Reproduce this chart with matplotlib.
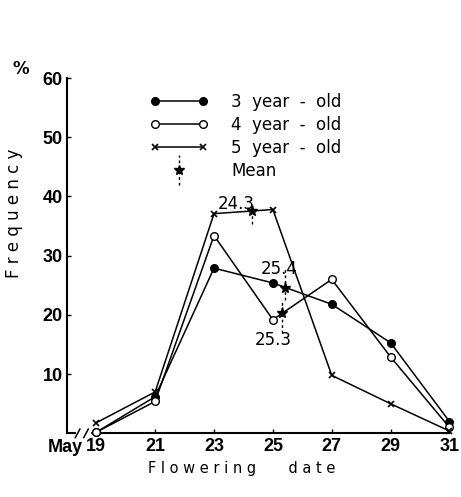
import matplotlib
matplotlib.use("Agg")
import matplotlib.pyplot as plt
import matplotlib.transforms as mtransforms
from matplotlib.lines import Line2D
from matplotlib.legend_handler import HandlerBase

# flowering dates (May)
dates = [19, 21, 23, 25, 27, 29, 31]
tick_labels = ["19", "21", "23", "25", "27", "29", "31"]

# frequency (%)
age3 = [0.2, 6.2, 27.9, 25.4, 21.8, 15.3, 2.0]
age4 = [0.2, 5.4, 33.4, 19.2, 26.0, 12.9, 1.0]
age5 = [1.8, 7.0, 37.1, 37.8, 9.8, 5.0, 0.4]

# mean flowering dates
mean_x = [24.3, 25.4, 25.3]
mean_y = [37.5, 24.6, 20.3]
mean_lab = ["24.3", "25.4", "25.3"]
mean_lab_xy = [(23.75, 38.8), (25.2, 27.7), (25.0, 15.7)]
mean_dash = [(35.3, 37.5), (22.5, 28.0), (17.0, 22.5)]

plt.rcParams["font.family"] = ["DejaVu Sans"]
tick_font = {"family": "Liberation Sans", "size": 13, "weight": "bold"}

fig = plt.figure(figsize=(4.61, 4.97), dpi=100)
ax = fig.add_axes([0.145, 0.128, 0.83, 0.715])

l3, = ax.plot(dates, age3, color="black", lw=1.1, marker="o", ms=5.5,
              mfc="black", mec="black", clip_on=False, zorder=3)
l4, = ax.plot(dates, age4, color="black", lw=1.1, marker="o", ms=5.5,
              mfc="white", mec="black", clip_on=False, zorder=3)
l5, = ax.plot(dates, age5, color="black", lw=1.1, marker="x", ms=4.5,
              mew=1.2, clip_on=False, zorder=3)

# mean markers with dashed ticks
for x, y, (d0, d1) in zip(mean_x, mean_y, mean_dash):
    ax.plot([x, x], [d0, d1], color="black", lw=1.0, ls=(0, (2, 2)), zorder=4)
    ax.plot(x, y, marker="*", ms=8, color="black", zorder=5)

for lab, (tx, ty) in zip(mean_lab, mean_lab_xy):
    ax.text(tx, ty, lab, fontsize=12, ha="center", va="center")


class MeanHandler(HandlerBase):
    def create_artists(self, legend, orig_handle, xdescent, ydescent,
                       width, height, fontsize, trans):
        cx = width / 2 - xdescent
        cy = height / 2 - ydescent
        dash = Line2D([cx, cx], [cy - 11, cy + 11], color="black", lw=1.0,
                      ls=(0, (2, 2)), transform=trans)
        star = Line2D([cx], [cy], marker="*", ms=7, color="black",
                      ls="none", transform=trans)
        return [dash, star]


mean_handle = Line2D([], [])
ax.legend([l3, l4, l5, mean_handle],
          ["3  year  -  old", "4  year  -  old", "5  year  -  old", "Mean"],
          handler_map={mean_handle: MeanHandler()},
          numpoints=2, handlelength=3.47, handletextpad=1.38,
          labelspacing=0.3, borderpad=0, frameon=False, fontsize=12,
          loc="upper left", bbox_to_anchor=(0.196, 0.982))

ax.set_xlim(18, 31)
ax.set_ylim(0, 60)
ax.set_xticks(dates)
ax.set_xticklabels(tick_labels, fontdict=tick_font)
ax.set_yticks([10, 20, 30, 40, 50, 60])
ax.set_yticklabels(["10", "20", "30", "40", "50", "60"], fontdict=tick_font)
ax.tick_params(direction="in", length=3, width=1, pad=3)

# "May" in front of the first date
trans = mtransforms.blended_transform_factory(ax.transData, ax.transAxes)
ax.text(dates[0] - 0.45, -0.015, "May", transform=trans, ha="right", va="top",
        fontdict=tick_font)

ax.spines["top"].set_visible(False)
ax.spines["right"].set_visible(False)
ax.spines["left"].set_linewidth(1.5)
ax.spines["bottom"].set_linewidth(1.5)

# axis break on the x axis
ax.plot([0.03, 0.058], [0, 0], transform=ax.transAxes, color="white",
        lw=3, clip_on=False, zorder=6)
for bx in (0.028, 0.05):
    ax.plot([bx - 0.006, bx + 0.006], [-0.012, 0.012], transform=ax.transAxes,
            color="black", lw=1.1, clip_on=False, zorder=7)

ax.set_ylabel("F r e q u e n c y", fontsize=12)
ax.yaxis.set_label_coords(-0.115, 0.62)
ax.set_xlabel("F l o w e r i n g       d a t e", fontsize=10.5)
ax.xaxis.set_label_coords(0.456, -0.078)
fig.text(0.045, 0.862, "%", fontsize=12, fontweight="bold", ha="center", va="center")

fig.savefig("out.png", dpi=100)
